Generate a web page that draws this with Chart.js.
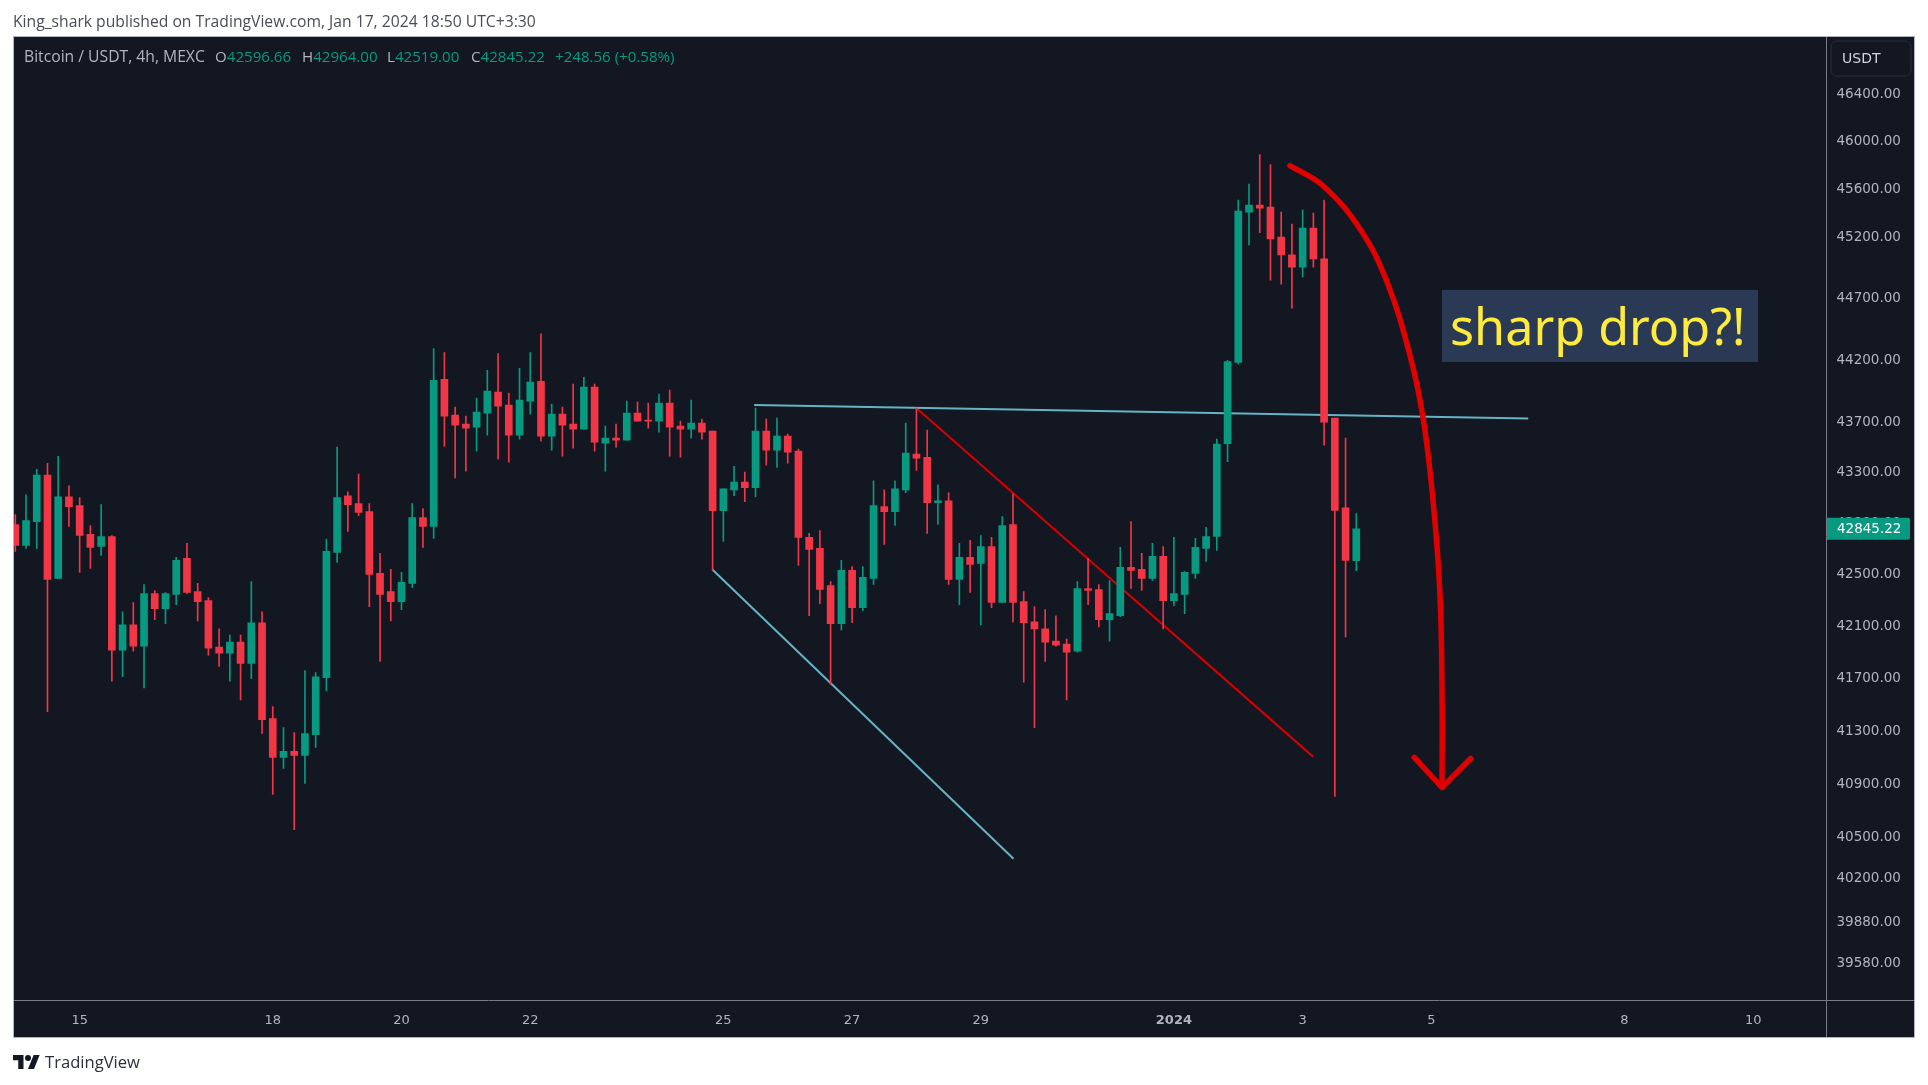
<!DOCTYPE html>
<html>
<head>
<meta charset="utf-8">
<script src="https://cdn.jsdelivr.net/npm/chart.js@4"></script>
<style>
  html, body { margin: 0; padding: 0; background: #fff; }
  #wrap { position: relative; width: 1928px; height: 1085px; overflow: hidden; }
  canvas { position: absolute; left: 0; top: 0; }
  .txt { position: absolute; white-space: nowrap; font-family: "Open Sans", sans-serif; }
  #published { left: 13px; top: 10px; font-size: 15.7px; color: #4a4d57; }
  #brand { left: 45px; top: 1050px; font-size: 16.6px; color: #2a2e39; }
  #logo { position: absolute; left: 13px; top: 1055px; }
  .ohlc { top: 46px; font-size: 15.1px; color: #b2b5be; }
  .ohlc b { font-weight: normal; color: #089981; }
</style>
</head>
<body>
<div id="wrap">
  <canvas id="chart" width="1928" height="1085"></canvas>
  <div class="txt" id="published">King_shark published on TradingView.com, Jan 17, 2024 18:50 UTC+3:30</div>
  <div class="txt ohlc" style="left:24px;font-size:15.7px;top:45px">Bitcoin / USDT, 4h, MEXC</div>
  <div class="txt ohlc" style="left:215px">O<b>42596.66</b></div>
  <div class="txt ohlc" style="left:302px">H<b>42964.00</b></div>
  <div class="txt ohlc" style="left:387px">L<b>42519.00</b></div>
  <div class="txt ohlc" style="left:471px">C<b>42845.22</b></div>
  <div class="txt ohlc" style="left:555px"><b>+248.56 (+0.58%)</b></div>
  <svg id="logo" width="27" height="14" viewBox="0 0 36 18.5"><path fill="#131722" d="M14 18.5H7V7H0V0h14v18.5zM28 18.5h-8L27.5 0h8L28 18.5z"/><circle fill="#131722" cx="20" cy="4" r="4"/></svg>
  <div class="txt" id="brand">TradingView</div>
</div>
<script>
// 4h candles, oldest first
const opens = [
  42879, 42715, 42902, 43269, 42458, 43097, 43027, 42801, 42707, 42785,
  41904, 42099, 41935, 42341, 42224, 42333, 42614, 42356, 42286, 41927,
  41881, 41966, 41803, 42115, 41383, 41090, 41135, 41105, 41262, 41693,
  42661, 43105, 43043, 42980, 42497, 42356, 42278, 42419, 42934, 42863,
  44034, 43746, 43674, 43650, 43762, 43930, 43826, 43586, 43858, 44018,
  43578, 43754, 43674, 43634, 43970, 43522, 43562, 43546, 43762, 43706,
  43698, 43842, 43658, 43634, 43682, 43618, 42988, 43152, 43214, 43168,
  43618, 43466, 43578, 43458, 42778, 42692, 42403, 42107, 42520, 42232,
  42458, 43019, 42980, 43152, 43434, 43410, 43051, 43066, 42450, 42622,
  42575, 42707, 42271, 42879, 42278, 42122, 42068, 41974, 41951, 41896,
  42380, 42372, 42138, 42169, 42544, 42528, 42458, 42629, 42286, 42333,
  42497, 42692, 42785, 43517, 44170, 45401, 45459, 45444, 45194, 45047,
  44947, 45269, 45015, 43722, 43010, 42596.66
];
const highs = [
  42957, 43113, 43314, 43362, 43418, 43183, 43090, 42871, 43035, 42793,
  42200, 42271, 42411, 42364, 42349, 42622, 42731, 42419, 42310, 42068,
  42021, 42021, 42434, 42200, 41473, 41315, 41278, 41748, 41732, 42762,
  43490, 43136, 43277, 43043, 42653, 42528, 42505, 43043, 43004, 44282,
  44250, 43810, 43738, 43882, 44106, 44242, 43922, 44122, 44250, 44402,
  43834, 43810, 43994, 44050, 43994, 43658, 43674, 43858, 43850, 43842,
  43914, 43946, 43698, 43866, 43714, 43618, 43160, 43338, 43292, 43802,
  43714, 43722, 43594, 43474, 42809, 42832, 42434, 42598, 42551, 42551,
  43222, 43152, 43222, 43682, 43802, 43626, 43191, 43129, 42731, 42754,
  42793, 42778, 42941, 43121, 42356, 42239, 42216, 42169, 41990, 42434,
  42614, 42411, 42442, 42700, 42902, 42653, 42731, 42707, 42778, 42512,
  42770, 42856, 43554, 44186, 45502, 45634, 45881, 45798, 45401, 45301,
  45419, 45394, 45502, 43722, 43562, 42964
];
const lows = [
  42668, 42692, 42692, 41435, 42458, 42863, 42505, 42536, 42637, 41668,
  41701, 41896, 41615, 42138, 42107, 42255, 42341, 42130, 41865, 41779,
  41668, 41525, 41686, 41270, 40813, 41008, 40550, 40895, 41165, 41592,
  42583, 42824, 42949, 42239, 41818, 42130, 42216, 42388, 42700, 42770,
  43498, 43246, 43300, 43458, 43586, 43394, 43370, 43554, 43754, 43538,
  43466, 43418, 43482, 43634, 43458, 43300, 43490, 43546, 43698, 43642,
  43610, 43418, 43410, 43562, 43554, 42520, 42746, 43105, 43058, 43097,
  43346, 43330, 43362, 42559, 42169, 42263, 41645, 42060, 42115, 42208,
  42411, 42723, 42871, 43129, 43306, 42809, 42879, 42411, 42255, 42349,
  42099, 42232, 42271, 42122, 41660, 41315, 41818, 41935, 41525, 41888,
  42255, 42083, 41974, 42161, 42380, 42364, 42442, 42068, 42247, 42185,
  42458, 42590, 42676, 43375, 44155, 45130, 45230, 44839, 44807, 44611,
  44865, 44947, 43506, 40798, 42005, 42519
];
const closes = [
  42715, 42910, 43269, 42450, 43097, 43019, 42793, 42700, 42785, 41904,
  42099, 41935, 42341, 42224, 42341, 42598, 42349, 42278, 41920, 41881,
  41966, 41803, 42115, 41375, 41090, 41135, 41105, 41270, 41701, 42668,
  43090, 43035, 42973, 42489, 42333, 42278, 42427, 42934, 42863, 44026,
  43738, 43666, 43642, 43770, 43938, 43818, 43586, 43866, 44010, 43578,
  43754, 43666, 43634, 43970, 43530, 43562, 43546, 43762, 43698, 43698,
  43842, 43650, 43634, 43682, 43610, 42988, 43160, 43214, 43168, 43618,
  43466, 43578, 43450, 42778, 42684, 42372, 42107, 42520, 42232, 42466,
  43027, 42980, 43160, 43442, 43402, 43051, 43066, 42450, 42622, 42567,
  42707, 42271, 42871, 42271, 42115, 42068, 41966, 41943, 41888, 42380,
  42364, 42138, 42185, 42544, 42520, 42458, 42629, 42286, 42341, 42505,
  42700, 42785, 43514, 44176, 45409, 45459, 45433, 45179, 45047, 44947,
  45269, 45015, 43690, 42990, 42598, 42845.22
];

const priceTicks = [46400, 46000, 45600, 45200, 44700, 44200, 43700, 43300, 42900, 42500,
  42100, 41700, 41300, 40900, 40500, 40200, 39880, 39580];
const dayTickIndexes = [6, 24, 36, 48, 66, 78, 90, 108, 120, 132, 150, 162];
const dayTickLabels = ['15', '18', '20', '22', '25', '27', '29', '2024', '3', '5', '8', '10'];

// drawings on the chart, as [candle index, price]
const neckline = [[68.88, 43826], [141.03, 43718]];
const lowerLine = [[64.97, 42528], [93.05, 40335]];
const redLine = [[83.99, 43802], [120.99, 41094]];
const arrowCurve = [[118.82, 45789], [121.9, 45620], [125.35, 45261], [127.83, 44832], [130, 44228],
  [131.22, 43726], [132.15, 43070], [132.8, 42333], [133, 41497], [132.99, 40865]];
const arrowHead = [[130.4, 41090], [132.99, 40865], [135.66, 41082]];

const lastPrice = 42845.22;

const green = '#089981';
const red = '#f23645';
const candleColors = opens.map((o, i) => closes[i] >= o ? green : red);
const toPoints = list => list.map(p => ({ x: p[0], y: p[1] }));

function drawing(list, color, width, order, extra) {
  return Object.assign({
    type: 'line',
    data: toPoints(list),
    borderColor: color,
    borderWidth: width,
    pointRadius: 0,
    order: order
  }, extra);
}

// panel background and frame, last price tag, text callout
const chrome = {
  id: 'chrome',
  beforeDraw(chart) {
    const c = chart.ctx;
    c.save();
    c.fillStyle = '#131722';
    c.fillRect(13, 36, 1902, 1002);
    c.restore();
  },
  afterDraw(chart) {
    const c = chart.ctx;
    const y = chart.scales.y;
    c.save();
    c.strokeStyle = '#787b86';
    c.lineWidth = 1;
    c.beginPath();
    c.moveTo(1826.5, 36);
    c.lineTo(1826.5, 1037);
    c.moveTo(13, 1000.5);
    c.lineTo(1915, 1000.5);
    c.stroke();
    c.strokeStyle = '#b2b5be';
    c.strokeRect(13.5, 36.5, 1901, 1001);

    // USDT button
    c.strokeStyle = '#2a2e39';
    c.beginPath();
    c.roundRect(1831, 41, 80, 35, 6);
    c.stroke();
    c.fillStyle = '#d1d4dc';
    c.font = '14px "DejaVu Sans"';
    c.textBaseline = 'middle';
    c.textAlign = 'left';
    c.fillText('USDT', 1842, 59);

    // last price tag
    const py = y.getPixelForValue(lastPrice);
    c.fillStyle = green;
    c.beginPath();
    c.roundRect(1827, py - 11, 83, 22, [0, 2, 2, 0]);
    c.fill();
    c.fillStyle = '#fff';
    c.font = '13.5px "DejaVu Sans"';
    c.fillText(lastPrice.toFixed(2), 1837, py + 1);

    // callout
    c.fillStyle = '#2a3a55';
    c.fillRect(1442, 290, 316, 72);
    c.fillStyle = '#ffeb3b';
    c.font = '50.3px "Noto Sans"';
    c.fillText('sharp drop?!', 1450, 331);
    c.restore();
  }
};

new Chart(document.getElementById('chart'), {
  type: 'bar',
  data: {
    datasets: [
      drawing(neckline, '#66b3c4', 2, 3),
      drawing(lowerLine, '#66b3c4', 2, 3),
      drawing(redLine, '#d50000', 2, 3),
      {
        label: 'wicks',
        data: lows.map((l, i) => ({ x: i, y: [l, highs[i]] })),
        backgroundColor: candleColors,
        barThickness: 1,
        grouped: false,
        order: 2
      },
      {
        label: 'bodies',
        data: opens.map((o, i) => ({ x: i, y: [o, closes[i]] })),
        backgroundColor: candleColors,
        barThickness: 7,
        grouped: false,
        order: 1
      },
      drawing(arrowCurve, '#e00000', 5.5, 0, { tension: 0.4, capBezierPoints: false, borderCapStyle: 'round' }),
      drawing(arrowHead, '#e00000', 5.5, 0, { borderCapStyle: 'round', borderJoinStyle: 'round' })
    ]
  },
  options: {
    responsive: false,
    animation: false,
    layout: { padding: { left: 13, top: 36, right: 0, bottom: 0 } },
    plugins: { legend: { display: false }, tooltip: { enabled: false } },
    scales: {
      x: {
        type: 'linear',
        offset: false,
        min: -0.214,
        max: 168.83,
        grid: { display: false, drawTicks: false },
        border: { display: false },
        afterFit: s => { s.height = 85; },
        afterBuildTicks: s => { s.ticks = dayTickIndexes.map(v => ({ value: v })); },
        ticks: {
          autoSkip: false,
          maxRotation: 0,
          padding: 13,
          color: '#b2b5be',
          font: ctx => ({
            family: 'DejaVu Sans',
            size: 13,
            weight: ctx.tick && ctx.tick.value === 108 ? 'bold' : 'normal'
          }),
          callback: v => dayTickLabels[dayTickIndexes.indexOf(v)]
        }
      },
      y: {
        type: 'logarithmic',
        position: 'right',
        bounds: 'data',
        min: 39306,
        max: 46888,
        grid: { display: false, drawTicks: false },
        border: { display: false },
        afterFit: s => { s.width = 101.5; },
        afterBuildTicks: s => { s.ticks = priceTicks.map(v => ({ value: v })); },
        ticks: {
          autoSkip: false,
          padding: 10,
          labelOffset: 1.5,
          color: '#b2b5be',
          font: { family: 'DejaVu Sans', size: 13.5 },
          callback: v => v.toFixed(2)
        }
      }
    }
  },
  plugins: [chrome]
});
</script>
</body>
</html>
